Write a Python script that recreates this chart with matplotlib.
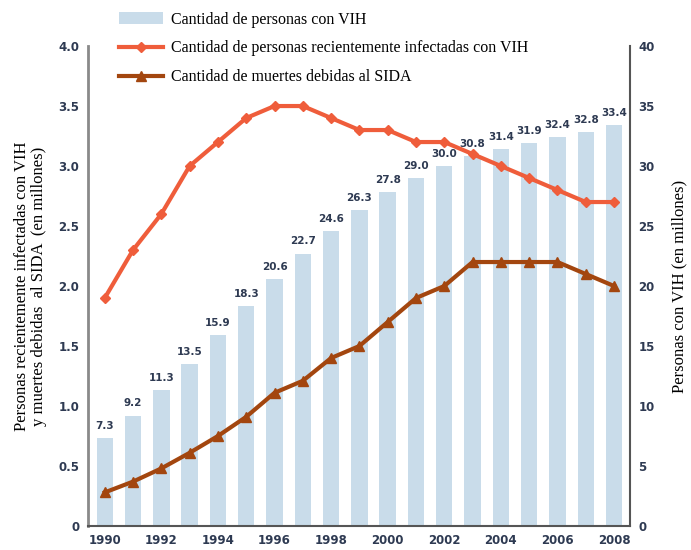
import matplotlib.pyplot as plt

# datos (ONUSIDA 1990-2008)
years = list(range(1990, 2009))
con_vih = [7.3, 9.2, 11.3, 13.5, 15.9, 18.3, 20.6, 22.7, 24.6, 26.3,
           27.8, 29.0, 30.0, 30.8, 31.4, 31.9, 32.4, 32.8, 33.4]
nuevas = [1.9, 2.3, 2.6, 3.0, 3.2, 3.4, 3.5, 3.5, 3.4, 3.3,
          3.3, 3.2, 3.2, 3.1, 3.0, 2.9, 2.8, 2.7, 2.7]
muertes = [0.28, 0.37, 0.48, 0.61, 0.75, 0.91, 1.11, 1.21, 1.40, 1.50,
           1.70, 1.90, 2.00, 2.20, 2.20, 2.20, 2.20, 2.10, 2.00]
bar_labels = ['7.3', '9.2', '11.3', '13.5', '15.9', '18.3', '20.6', '22.7', '24.6', '26.3',
              '27.8', '29.0', '30.0', '30.8', '31.4', '31.9', '32.4', '32.8', '33.4']

tick_col = '#2e3a52'
bar_col = '#c9dcea'
orange = '#ef5d3b'
brown = '#a3460f'

fig = plt.figure(figsize=(6.91, 5.5), dpi=100)
ax = fig.add_axes([0.127, 0.0436, 0.785, 0.8727])
ax2 = ax.twinx()

# barras en el eje derecho, lineas en el izquierdo
ax.set_zorder(ax2.get_zorder() + 1)
ax.patch.set_visible(False)

bars = ax2.bar(years, con_vih, width=0.58, color=bar_col, zorder=1)
for x, v, lab in zip(years, con_vih, bar_labels):
    ax2.text(x, v + 0.6, lab, ha='center', va='bottom', fontsize=7.5,
             fontweight='bold', color=tick_col)

l1, = ax.plot(years, nuevas, color=orange, lw=3, marker='D', ms=5.5)
l2, = ax.plot(years, muertes, color=brown, lw=3, marker='^', ms=7)

ax.set_xlim(1989.4, 2008.57)
ax.set_ylim(0, 4.0)
ax2.set_ylim(0, 40)
ax.set_xticks(range(1990, 2009, 2))
ax.set_yticks([0, 0.5, 1.0, 1.5, 2.0, 2.5, 3.0, 3.5, 4.0])
ax.set_yticklabels(['0', '0.5', '1.0', '1.5', '2.0', '2.5', '3.0', '3.5', '4.0'])
ax2.set_yticks(range(0, 41, 5))

for a in (ax, ax2):
    a.tick_params(length=0, labelsize=8.5, labelcolor=tick_col, pad=6)
    a.spines['top'].set_visible(False)
for lab in ax.get_xticklabels() + ax.get_yticklabels() + ax2.get_yticklabels():
    lab.set_fontweight('bold')

ax.spines['left'].set_color('#8a8a8a')
ax.spines['left'].set_linewidth(2)
ax2.spines['left'].set_visible(False)
ax.spines['right'].set_visible(False)
ax2.spines['right'].set_color('#555555')
ax2.spines['right'].set_linewidth(1.5)
ax.spines['bottom'].set_color('#555555')
ax.spines['bottom'].set_linewidth(1.5)
ax2.spines['bottom'].set_visible(False)

ax.set_ylabel('Personas recientemente infectadas con VIH\ny muertes debidas  al SIDA  (en millones)',
              family='Liberation Serif', fontsize=12, labelpad=8, linespacing=1.15)
ax2.set_ylabel('Personas con VIH (en millones)', family='Liberation Serif',
               fontsize=12, labelpad=12, rotation=90)

fig.legend([bars, l1, l2],
           ['Cantidad de personas con VIH',
            'Cantidad de personas recientemente infectadas con VIH',
            'Cantidad de muertes debidas al SIDA'],
           loc='upper left', bbox_to_anchor=(0.152, 1.005), frameon=False,
           prop={'family': 'Liberation Serif', 'size': 11.5},
           handlelength=2.7, labelspacing=0.8, handletextpad=0.5)

fig.savefig('out.png', dpi=100)
